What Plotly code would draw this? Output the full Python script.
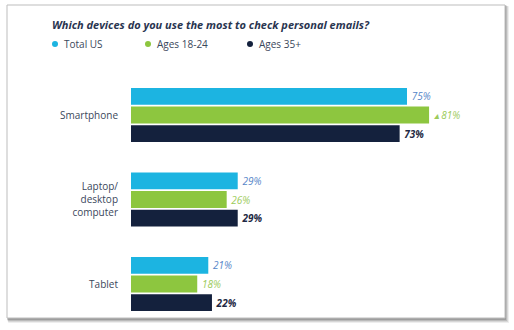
import plotly.graph_objects as go

W, H = 514, 330

title_text = "Which devices do you use the most to check personal emails?"
categories = ["Smartphone", "Laptop/<br>desktop<br>computer", "Tablet"]
series_names = ["Total US", "Ages 18-24", "Ages 35+"]
total_us = [75, 29, 21]
ages_18_24 = [81, 26, 18]
ages_35_plus = [73, 29, 22]
# small marker shown in front of a highlighted value
ages_18_24_flags = ["▴ ", "", ""]

bar_colors = ["#1cb4e1", "#8dc63f", "#14213d"]
label_colors = ["#5585c8", "#9ccb5b", "#1f2a44"]
label_weights = ["normal", "normal", "bold"]
legend_dot_px = [55, 148, 250]


def px_x(p):
    return p / W


def px_y(p):
    return 1 - p / H


fig = go.Figure()

series = [total_us, ages_18_24, ages_35_plus]
prefixes = [["", "", ""], ages_18_24_flags, ["", "", ""]]
for name, vals, pre, col, lcol, lw in zip(series_names, series, prefixes,
                                           bar_colors, label_colors, label_weights):
    fig.add_trace(go.Bar(
        y=categories, x=vals, orientation="h", name=name,
        marker=dict(color=col, line=dict(width=0)),
        text=[f"\u2009{p}{v}%" for p, v in zip(pre, vals)],
        textposition="outside", cliponaxis=False,
        textfont=dict(family="Open Sans", size=10, color=lcol,
                      style="italic", weight=lw),
        showlegend=False, hoverinfo="skip",
    ))

# card with soft drop shadow
shapes = []
for off, op in [(4, 0.10), (3, 0.15), (2, 0.22), (1, 0.30)]:
    shapes.append(dict(
        type="rect", xref="paper", yref="paper", layer="below",
        x0=px_x(7 + off * 0.3), x1=px_x(505 + off),
        y0=px_y(318 + off + 1), y1=px_y(5 + off * 0.3),
        fillcolor=f"rgba(90,90,90,{op})", line=dict(width=0),
    ))
shapes.append(dict(
    type="rect", xref="paper", yref="paper", layer="below",
    x0=px_x(7), x1=px_x(505), y0=px_y(318), y1=px_y(5),
    fillcolor="white", line=dict(color="#bdbdbd", width=1),
))

# legend row: coloured dot followed by the series name
annotations = []
legend_y = 44
for name, col, dx in zip(series_names, bar_colors, legend_dot_px):
    shapes.append(dict(
        type="circle", xref="paper", yref="paper",
        x0=px_x(dx - 3), x1=px_x(dx + 3),
        y0=px_y(legend_y + 3), y1=px_y(legend_y - 3),
        fillcolor=col, line=dict(width=0),
    ))
    annotations.append(dict(
        xref="paper", yref="paper", x=px_x(dx + 7), y=px_y(legend_y),
        xanchor="left", yanchor="middle", showarrow=False,
        text=name,
        font=dict(family="Open Sans", size=10, color="#3b475b"),
    ))

fig.update_layout(
    width=W, height=H,
    margin=dict(l=0, r=0, t=0, b=0),
    paper_bgcolor="white", plot_bgcolor="rgba(0,0,0,0)",
    barmode="group", bargap=0.337, bargroupgap=0.1,
    font=dict(family="Open Sans", size=10, color="#3b475b"),
    showlegend=False,
    title=dict(
        text=title_text, x=px_x(52), xanchor="left", xref="paper",
        y=px_y(25), yanchor="middle", yref="paper",
        font=dict(family="Open Sans", size=11, color="#2a3550",
                  style="italic", weight="bold"),
    ),
    xaxis=dict(domain=[px_x(131), px_x(499)], range=[0, 100],
               visible=False, fixedrange=True),
    yaxis=dict(domain=[px_y(326.25), px_y(72.75)], autorange=False,
               range=[2.5, -0.5], showgrid=False, zeroline=False,
               showline=False, ticks="", ticklabelstandoff=12,
               tickfont=dict(size=10, color="#3b475b")),
    shapes=shapes,
    annotations=annotations,
)

fig.write_html("out.html")
